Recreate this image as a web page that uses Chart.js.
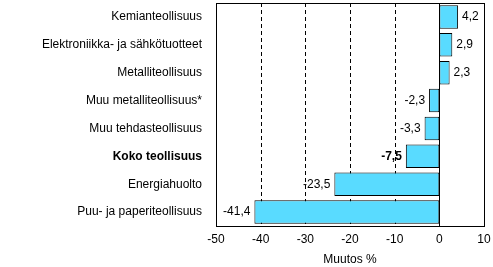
<!DOCTYPE html>
<html>
<head>
<meta charset="utf-8"/>
<style>
  body { margin: 0; padding: 0; background: #ffffff; }
  #wrap { width: 493px; height: 267px; position: relative; }
</style>
<script src="https://cdn.jsdelivr.net/npm/chart.js@4/dist/chart.umd.min.js"></script>
</head>
<body>
<div id="wrap"><canvas id="chart"></canvas></div>
<script>
  var categories = [
    'Kemianteollisuus',
    'Elektroniikka- ja sähkötuotteet',
    'Metalliteollisuus',
    'Muu metalliteollisuus*',
    'Muu tehdasteollisuus',
    'Koko teollisuus',
    'Energiahuolto',
    'Puu- ja paperiteollisuus'
  ];
  var values = [4.2, 2.9, 2.3, -2.3, -3.3, -7.5, -23.5, -41.4];
  var boldIndex = 5;
  var xTicks = [-50, -40, -30, -20, -10, 0, 10];
  var dashedAt = [-40, -30, -20, -10];

  var FONT = 'Liberation Sans, Arial, sans-serif';

  // dashed grid under the bars
  var gridPlugin = {
    id: 'dashgrid',
    beforeDatasetsDraw: function(chart) {
      var ctx = chart.ctx, area = chart.chartArea, x = chart.scales.x;
      ctx.save();
      ctx.strokeStyle = '#000';
      ctx.lineWidth = 1;
      ctx.setLineDash([4, 3]);
      dashedAt.forEach(function(v) {
        var px = Math.round(x.getPixelForValue(v)) + 0.5;
        ctx.beginPath();
        ctx.moveTo(px, area.top);
        ctx.lineTo(px, area.bottom);
        ctx.stroke();
      });
      ctx.restore();
    }
  };

  // value labels + frame + zero line
  var decorPlugin = {
    id: 'decor',
    afterDatasetsDraw: function(chart) {
      var ctx = chart.ctx;
      var area = chart.chartArea;
      var x = chart.scales.x;
      var meta = chart.getDatasetMeta(0);
      ctx.save();
      ctx.strokeStyle = '#000';
      ctx.lineWidth = 1;
      var zx = Math.round(x.getPixelForValue(0)) + 0.5;
      ctx.beginPath();
      ctx.moveTo(zx, area.top);
      ctx.lineTo(zx, area.bottom);
      ctx.stroke();
      ctx.strokeRect(Math.round(area.left) + 0.5, Math.round(area.top) + 0.5,
        Math.round(area.right - area.left), Math.round(area.bottom - area.top));
      ctx.fillStyle = '#000';
      ctx.textBaseline = 'middle';
      meta.data.forEach(function(bar, i) {
        var v = values[i];
        ctx.font = (i === boldIndex ? 'bold ' : '') + '12px ' + FONT;
        var txt = String(v).replace('.', ',');
        if (v >= 0) {
          ctx.textAlign = 'left';
          ctx.fillText(txt, bar.x + 4, bar.y);
        } else {
          ctx.textAlign = 'right';
          ctx.fillText(txt, bar.x - 4, bar.y);
        }
      });
      ctx.restore();
    }
  };

  new Chart(document.getElementById('chart'), {
    type: 'bar',
    data: {
      labels: categories,
      datasets: [{
        data: values,
        backgroundColor: '#59dbff',
        borderColor: '#000000',
        borderWidth: 1,
        borderSkipped: false,
        barPercentage: 0.84,
        categoryPercentage: 1
      }]
    },
    options: {
      indexAxis: 'y',
      responsive: true,
      maintainAspectRatio: false,
      animation: false,
      layout: { padding: { top: 3, right: 9, left: 0, bottom: 0 } },
      plugins: {
        legend: { display: false },
        tooltip: { enabled: false }
      },
      scales: {
        x: {
          min: -50,
          max: 10,
          afterBuildTicks: function(scale) {
            scale.ticks = xTicks.map(function(v) { return { value: v }; });
          },
          grid: { display: false, drawTicks: false },
          border: { display: false },
          ticks: {
            color: '#000',
            font: { family: FONT, size: 12 },
            padding: 6,
            maxRotation: 0,
            callback: function(v) { return String(v); }
          },
          title: {
            display: true,
            text: 'Muutos %',
            color: '#000',
            font: { family: FONT, size: 12 },
            padding: { top: 3, bottom: 0 }
          },
          afterFit: function(scale) {
            scale.height = 41;
            scale.paddingLeft = 0;
            scale.paddingRight = 0;
          }
        },
        y: {
          grid: { display: false, drawTicks: false },
          border: { display: false },
          ticks: {
            color: '#000',
            padding: 14,
            font: function(c) {
              return { family: FONT, size: 12, weight: c.index === boldIndex ? 'bold' : 'normal' };
            }
          },
          afterFit: function(scale) {
            scale.width = 216;
            scale.paddingTop = 0;
            scale.paddingBottom = 0;
          }
        }
      }
    },
    plugins: [gridPlugin, decorPlugin]
  });
</script>
</body>
</html>
